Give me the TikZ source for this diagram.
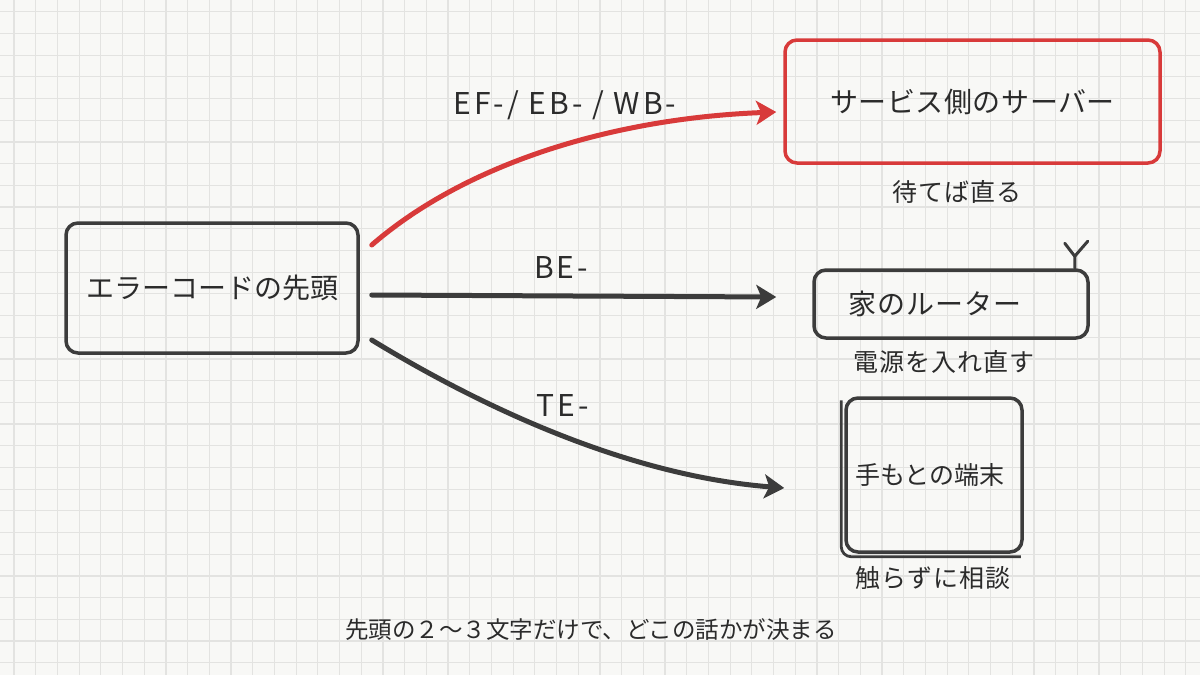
\documentclass[tikz,border=0pt]{standalone}
\usepackage{fontspec}
\setmainfont{Noto Sans CJK JP}
\usetikzlibrary{arrows.meta,calc}
\definecolor{paper}{HTML}{F8F8F6}
\definecolor{gridc}{HTML}{E3E3E1}
\definecolor{pencil}{HTML}{3C3C3C}
\definecolor{redpen}{HTML}{D83A3A}
\definecolor{ink}{HTML}{2B2B2B}
\tikzset{
  box/.style={draw=pencil, line width=3.5pt, rounded corners=12pt, text=ink, inner sep=0pt},
  redbox/.style={box, draw=redpen},
  arr/.style={draw=pencil, line width=5pt, line cap=round, -{Stealth[length=20pt,width=24pt,inset=5pt]}},
  redarr/.style={arr, draw=redpen},
  lbl/.style={text=ink, inner sep=0pt, font=\fontsize{30}{32}\selectfont\addfontfeatures{LetterSpace=10}},
  sub/.style={text=ink, inner sep=0pt, font=\fontsize{25}{28}\selectfont\addfontfeatures{LetterSpace=4}},
  gridline/.style={draw=gridc, line width=1.2pt}
}
\begin{document}
\begin{tikzpicture}[x=1pt,y=-1pt]
\fill[paper] (0,0) rectangle (1200,675);
\useasboundingbox (0,0) rectangle (1200,675);
\foreach \i in {0,...,55} \draw[gridline] ({14+21.7*\i},0) -- ({14+21.7*\i},675);
\foreach \j in {0,...,30} \draw[gridline] (0,{11.7+21.7*\j}) -- (1200,{11.7+21.7*\j});

% nodes
\node[box, minimum width=292pt, minimum height=130pt, font=\fontsize{28}{30}\selectfont] (src) at (212,288) {エラーコードの先頭};
\node[redbox, minimum width=375pt, minimum height=123pt, font=\fontsize{28}{30}\selectfont\addfontfeatures{LetterSpace=2}] (srv) at (972.5,101.5) {サービス側のサーバー};
\node[box, minimum width=274pt, minimum height=68pt, font=\fontsize{28}{30}\selectfont\addfontfeatures{LetterSpace=4}] (rtr) at (951,304) {\hspace*{-32pt}家のルーター};
\node[box, minimum width=176pt, minimum height=154pt, font=\fontsize{25}{28}\selectfont] (dev) at (934,475) {\hspace*{-8pt}手もとの端末};
\draw[pencil, line width=2.8pt, rounded corners=10pt] ($(dev.north west)+(-3,4)$) -- ($(dev.south west)+(-3,3)$) -- ($(dev.south east)+(-3,3)$);

% antenna
\coordinate (ant) at ($(rtr.north east)+(-15,0)$);
\draw[pencil, line width=3pt, line cap=round, line join=round] (ant) -- ++(0,-12) coordinate (antj) -- ++(-10,-13);
\draw[pencil, line width=3pt, line cap=round] (antj) -- ++(13,-15);

% sub labels
\node[sub] (srvs) at (957,192) {待てば直る};
\node[sub] (rtrs) at (944,362) {電源を入れ直す};
\node[sub] (devs) at (933,578) {触らずに相談};
\node[sub, font=\fontsize{23.5}{26}\selectfont] (foot) at (591,630) {先頭の２〜３文字だけで、どこの話かが決まる};

% arrows
\draw[redarr] ($(src.east)+(12,-43)$) .. controls (470,160) and (620,118) .. ($(srv.west)+(-7,10.5)$);
\draw[arr] ($(src.east)+(12,7)$) -- ($(rtr.west)+(-36,-7)$);
\draw[arr] ($(src.east)+(12,52)$) .. controls (470,400) and (620,475) .. ($(dev.west)+(-60,13)$);

% edge labels
\node[lbl] (l1) at (565,105) {EF-/ EB- / WB-};
\node[lbl] (l2) at (561,268) {BE-};
\node[lbl] (l3) at (563,405) {TE-};
\end{tikzpicture}
\end{document}
